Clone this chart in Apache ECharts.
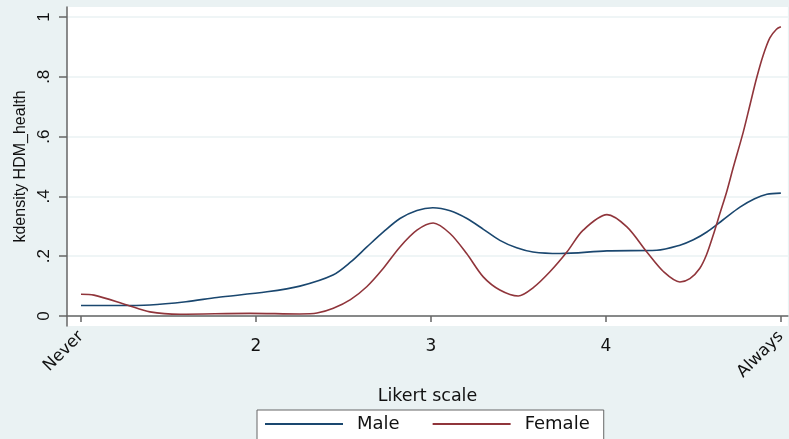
<!DOCTYPE html>
<html>
<head>
<meta charset="utf-8">
<script src="https://cdn.jsdelivr.net/npm/echarts@6/dist/echarts.min.js"></script>
<style>html,body{margin:0;padding:0;background:#eaf2f3;}#c{width:789px;height:439px;}</style>
</head>
<body>
<div id="c"></div>
<script>
const xTicks = [1, 2, 3, 4, 5];
const xTickLabels = ['Never', '2', '3', '4', 'Always'];
const yTicks = [0, 0.2, 0.4, 0.6, 0.8, 1];
const yTickLabels = ['0', '.2', '.4', '.6', '.8', '1'];
const seriesNames = ['Male', 'Female'];
const maleX = [1.0, 1.2, 1.394, 1.6, 1.777, 2.063, 2.251, 2.44, 2.54, 2.634, 2.73, 2.823, 2.92, 3.011, 3.11, 3.206, 3.30, 3.394, 3.49, 3.583, 3.737, 4.006, 4.291, 4.423, 4.50, 4.577, 4.67, 4.766, 4.85, 4.92, 5.0];
const maleY = [0.035, 0.035, 0.037, 0.048, 0.062, 0.081, 0.100, 0.137, 0.180, 0.231, 0.282, 0.326, 0.353, 0.362, 0.352, 0.326, 0.290, 0.253, 0.228, 0.214, 0.209, 0.218, 0.220, 0.237, 0.255, 0.281, 0.322, 0.364, 0.392, 0.407, 0.411];
const femaleX = [1.0, 1.074, 1.263, 1.394, 1.566, 1.966, 2.25, 2.349, 2.442, 2.54, 2.633, 2.727, 2.823, 2.92, 3.013, 3.109, 3.204, 3.299, 3.394, 3.499, 3.585, 3.68, 3.777, 3.87, 4.006, 4.12, 4.234, 4.33, 4.423, 4.48, 4.537, 4.575, 4.613, 4.651, 4.69, 4.727, 4.785, 4.823, 4.861, 4.899, 4.937, 4.975, 5.0];
const femaleY = [0.073, 0.070, 0.037, 0.014, 0.006, 0.009, 0.007, 0.010, 0.026, 0.055, 0.098, 0.159, 0.231, 0.287, 0.311, 0.276, 0.209, 0.131, 0.087, 0.067, 0.095, 0.148, 0.214, 0.287, 0.339, 0.298, 0.214, 0.148, 0.114, 0.125, 0.160, 0.205, 0.270, 0.342, 0.415, 0.495, 0.615, 0.705, 0.795, 0.872, 0.930, 0.959, 0.967];

const font = 'Liberation Sans, Arial, sans-serif';
const wideFont = 'DejaVu Sans, sans-serif';
const axisColor = '#666';
const chart = echarts.init(document.getElementById('c'), null, {renderer: 'canvas'});
const zip = (xs, ys) => xs.map((x, i) => [x, ys[i]]);
const xLab = v => { const i = xTicks.indexOf(Math.round(v)); return i >= 0 ? xTickLabels[i] : ''; };

chart.setOption({
  backgroundColor: '#eaf2f3',
  animation: false,
  textStyle: {fontFamily: font},
  grid: {left: 67, right: 0, top: 7, bottom: 113, show: true, backgroundColor: '#ffffff', borderWidth: 0},
  xAxis: [{
    type: 'value', min: 0.92, max: 5.04,
    name: 'Likert scale', nameLocation: 'middle', nameGap: 57,
    nameTextStyle: {fontSize: 17.5, color: '#111', fontFamily: wideFont},
    axisLine: {show: true, lineStyle: {color: axisColor, width: 1.5}},
    axisTick: {show: true, length: 6, lineStyle: {color: axisColor, width: 1.5}, customValues: xTicks},
    axisLabel: {
      rotate: 45, margin: 8, fontSize: 16.5, color: '#111', fontFamily: wideFont,
      customValues: [xTicks[0], xTicks[xTicks.length - 1]],
      formatter: xLab
    },
    splitLine: {show: false}
  }, {
    type: 'value', min: 0.92, max: 5.04, position: 'bottom',
    axisLine: {show: false}, axisTick: {show: false}, splitLine: {show: false},
    axisLabel: {
      margin: 12, fontSize: 17, color: '#111', fontFamily: wideFont,
      customValues: xTicks.slice(1, -1),
      formatter: xLab
    }
  }],
  yAxis: {
    type: 'value', min: -0.0333, max: 1.0333,
    name: 'kdensity HDM_health', nameLocation: 'middle', nameGap: 38,
    nameTextStyle: {fontSize: 16, color: '#111', fontFamily: font},
    axisLine: {show: true, lineStyle: {color: axisColor, width: 1.5}},
    axisTick: {show: true, length: 8, lineStyle: {color: axisColor, width: 1.5}, customValues: yTicks},
    axisLabel: {
      rotate: 90, margin: 14, fontSize: 17, color: '#111', fontFamily: font,
      customValues: yTicks,
      formatter: v => { let best = 0; yTicks.forEach((t, i) => { if (Math.abs(t - v) < Math.abs(yTicks[best] - v)) best = i; }); return yTickLabels[best]; }
    },
    splitLine: {show: true, lineStyle: {color: '#eaf2f3', width: 1.5}, customValues: yTicks}
  },
  legend: {
    left: 257, top: 410,
    data: seriesNames,
    backgroundColor: '#ffffff', borderColor: '#666', borderWidth: 1, borderRadius: 0,
    padding: [5, 14, 20, 8],
    itemWidth: 78, itemHeight: 2, itemGap: 33, icon: 'rect',
    textStyle: {fontSize: 18, color: '#111', fontFamily: wideFont, padding: [0, 0, 0, 9]}
  },
  series: [{
    name: seriesNames[0], type: 'line', xAxisIndex: 0, data: zip(maleX, maleY), smooth: 0.3,
    showSymbol: false, symbol: 'none', lineStyle: {color: '#1a476f', width: 1.6}, itemStyle: {color: '#1a476f'}
  }, {
    name: seriesNames[1], type: 'line', xAxisIndex: 0, data: zip(femaleX, femaleY), smooth: 0.3,
    showSymbol: false, symbol: 'none', lineStyle: {color: '#90353b', width: 1.6}, itemStyle: {color: '#90353b'}
  }]
});
</script>
</body>
</html>
